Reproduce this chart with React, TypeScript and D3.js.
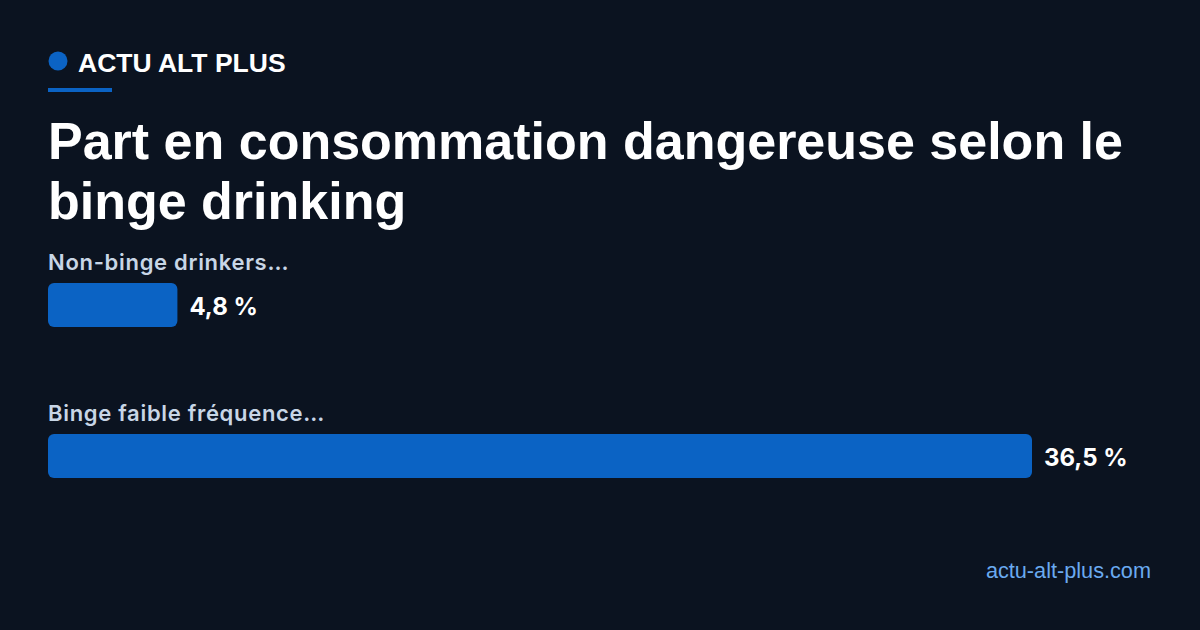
import React from 'react';
import * as d3 from 'd3';

const categories = ['Non-binge drinkers…', 'Binge faible fréquence…'];
const values = [4.8, 36.5];
const valueLabels = ['4,8 %', '36,5 %'];

const W = 1200;
const H = 630;

export default function App() {
  const x = d3.scaleLinear().domain([0, 36.5]).range([0, 984]);
  const y = d3.scaleBand<number>().domain([0, 1]).range([283, 585]).paddingInner(0).paddingOuter(0);
  const barH = 44;
  const head = '"Liberation Sans", Arial, sans-serif';
  const body = 'Inter, Roboto, sans-serif';

  return (
    <div style={{ position: 'fixed', left: 0, top: 0, width: W, height: H }}>
      <svg width={W} height={H} style={{ display: 'block' }}>
        <rect width={W} height={H} fill="#0b1320" />
        <circle cx={58} cy={61} r={9.5} fill="#0b63c4" />
        <text x={78} y={72} fill="#ffffff" fontFamily={head} fontWeight={700} fontSize={26.5}>ACTU ALT PLUS</text>
        <rect x={48} y={88} width={64} height={4} fill="#0b63c4" />
        <text x={48} y={159} fill="#ffffff" fontFamily={head} fontWeight={700} fontSize={52}>Part en consommation dangereuse selon le</text>
        <text x={48} y={219} fill="#ffffff" fontFamily={head} fontWeight={700} fontSize={52}>binge drinking</text>
        {values.map((v, i) => {
          const top = y(i) as number;
          return (
            <g key={i}>
              <text x={48} y={top - 13} fill="#c8d6e6" fontFamily={body} fontWeight={600} fontSize={22} letterSpacing={0.7}>{categories[i]}</text>
              <rect x={48} y={top} width={x(v)} height={barH} rx={6} fill="#0b63c4" />
              <text x={48 + x(v) + 12} y={top + 32} fill="#ffffff" fontFamily={body} fontWeight={700} fontSize={24}>{valueLabels[i]}</text>
            </g>
          );
        })}
        <text x={1151} y={578} textAnchor="end" fill="#6aaaf0" fontFamily={head} fontSize={21.7}>actu-alt-plus.com</text>
      </svg>
    </div>
  );
}
